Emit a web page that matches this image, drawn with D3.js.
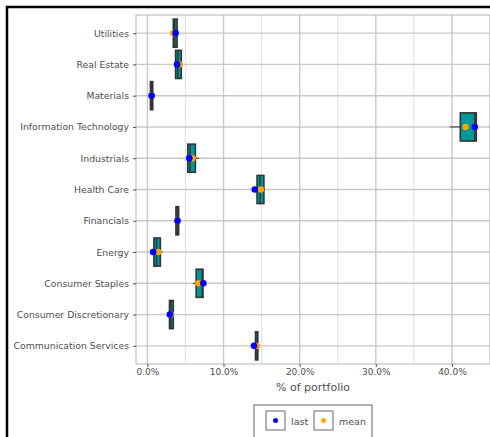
<!DOCTYPE html>
<meta charset="utf-8">
<style>
body { margin: 0; background: #fff; }
text { font-family: "DejaVu Sans", sans-serif; }
.axis text { fill: #4d4d4d; }
.axis line, .axis path { stroke: #4d4d4d; }
</style>
<div id="chart"></div>
<script src="https://d3js.org/d3.v7.min.js"></script>
<script>

// sectors, bottom to top as plotted
var sectors = ["Communication Services", "Consumer Discretionary", "Consumer Staples", "Energy",
  "Financials", "Health Care", "Industrials", "Information Technology", "Materials", "Real Estate", "Utilities"];

// box plot stats, % of portfolio
var whiskLo = [14.2, 2.9, 6.0, 0.85, 3.75, 14.4, 5.3, 39.7, 0.4, 3.7, 3.4];
var q1      = [14.2, 2.9, 6.4, 0.85, 3.75, 14.4, 5.3, 41.1, 0.4, 3.7, 3.4];
var median  = [14.4, 3.1, 7.2, 1.2, 3.95, 14.8, 5.6, 43.0, 0.55, 4.0, 3.6];
var q3      = [14.5, 3.4, 7.3, 1.7, 4.1, 15.3, 6.3, 43.2, 0.7, 4.45, 3.9];
var whiskHi = [14.5, 3.4, 7.3, 2.0, 4.1, 15.3, 6.8, 43.2, 0.7, 4.45, 3.9];
var lastVal = [14.0, 2.95, 7.35, 0.75, 3.95, 14.1, 5.5, 43.0, 0.55, 3.9, 3.7];
var meanVal = [14.4, 3.1, 6.7, 1.4, 3.95, 14.9, 5.95, 41.8, 0.55, 4.25, 3.4];

var xTicks = [0, 10, 20, 30, 40];
var xMinor = [5, 15, 25, 35, 45];

var W = 490, H = 437;
var margin = {top: 15, left: 136, right: 0, bottom: 73};
var width = W - margin.left - margin.right,
    height = H - margin.top - margin.bottom;

var svg = d3.select("#chart").append("svg")
  .attr("width", W)
  .attr("height", H);

// outer black frame
svg.append("rect")
  .attr("x", 7).attr("y", 7)
  .attr("width", W).attr("height", H)
  .attr("fill", "none")
  .attr("stroke", "#000")
  .attr("stroke-width", 2.5);

var g = svg.append("g")
  .attr("transform", "translate(" + margin.left + "," + margin.top + ")");

var x = d3.scaleLinear().domain([-1.5, 45]).range([0, width]);
var y = d3.scalePoint().domain(sectors).range([height, 0]).padding(0.58);
var step = y.step();
var boxH = step * 0.9;

// grid
g.selectAll(".minor").data(xMinor).enter().append("line")
  .attr("x1", function(d) { return x(d); }).attr("x2", function(d) { return x(d); })
  .attr("y1", 0).attr("y2", height)
  .attr("stroke", "#e3e3e3").attr("stroke-width", 1.2);
g.selectAll(".major").data(xTicks).enter().append("line")
  .attr("x1", function(d) { return x(d); }).attr("x2", function(d) { return x(d); })
  .attr("y1", 0).attr("y2", height)
  .attr("stroke", "#c8c8c8").attr("stroke-width", 1.4);
g.selectAll(".hgrid").data(sectors).enter().append("line")
  .attr("x1", 0).attr("x2", width)
  .attr("y1", function(d) { return y(d); }).attr("y2", function(d) { return y(d); })
  .attr("stroke", "#c8c8c8").attr("stroke-width", 1.4);

// panel border
g.append("rect")
  .attr("width", width).attr("height", height)
  .attr("fill", "none").attr("stroke", "#b3b3b3").attr("stroke-width", 1);

// axes
var xAxis = g.append("g")
  .attr("class", "axis")
  .attr("transform", "translate(0," + height + ")")
  .call(d3.axisBottom(x).tickValues(xTicks).tickSize(3).tickPadding(2)
    .tickFormat(function(d) { return d.toFixed(1) + "%"; }));
xAxis.select(".domain").remove();
xAxis.selectAll("text").style("font-size", "9px");

var yAxis = g.append("g")
  .attr("class", "axis")
  .call(d3.axisLeft(y).tickSize(3).tickPadding(4));
yAxis.select(".domain").remove();
yAxis.selectAll("text").style("font-size", "9.3px");

g.append("text")
  .attr("x", width / 2).attr("y", height + 27)
  .attr("text-anchor", "middle")
  .style("font-size", "11px")
  .attr("fill", "#4d4d4d")
  .text("% of portfolio");

// boxes
var idx = d3.range(sectors.length);
var boxes = g.selectAll(".box").data(idx).enter().append("g")
  .attr("transform", function(i) { return "translate(0," + y(sectors[i]) + ")"; });

boxes.append("line")
  .attr("x1", function(i) { return x(whiskLo[i]); })
  .attr("x2", function(i) { return x(whiskHi[i]); })
  .attr("stroke", "#333").attr("stroke-width", 1);
boxes.append("rect")
  .attr("x", function(i) { return x(q1[i]); })
  .attr("y", -boxH / 2)
  .attr("width", function(i) { return x(q3[i]) - x(q1[i]); })
  .attr("height", boxH)
  .attr("fill", "#009999")
  .attr("stroke", "#333").attr("stroke-width", 1.6);
boxes.append("line")
  .attr("x1", function(i) { return x(median[i]); })
  .attr("x2", function(i) { return x(median[i]); })
  .attr("y1", -boxH / 2).attr("y2", boxH / 2)
  .attr("stroke", "#333").attr("stroke-width", 1.5);
boxes.append("circle")
  .attr("cx", function(i) { return x(meanVal[i]); })
  .attr("r", 3.2).attr("fill", "orange");
boxes.append("circle")
  .attr("cx", function(i) { return x(lastVal[i]); })
  .attr("r", 3.3).attr("fill", "blue");

// legend
var legend = svg.append("g").attr("transform", "translate(254,405)");
legend.append("rect")
  .attr("width", 118).attr("height", 40)
  .attr("fill", "#fff").attr("stroke", "#666").attr("stroke-width", 1);
var keys = [{name: "last", color: "blue", x: 12, tx: 37}, {name: "mean", color: "orange", x: 60, tx: 85}];
keys.forEach(function(k) {
  legend.append("rect")
    .attr("x", k.x).attr("y", 6).attr("width", 19).attr("height", 19)
    .attr("fill", "#fff").attr("stroke", "#666").attr("stroke-width", 1);
  legend.append("circle")
    .attr("cx", k.x + 9.5).attr("cy", 15.5).attr("r", 2.5).attr("fill", k.color);
  legend.append("text")
    .attr("x", k.tx).attr("y", 19.5)
    .style("font-size", "9.5px").attr("fill", "#4d4d4d")
    .text(k.name);
});
</script>
